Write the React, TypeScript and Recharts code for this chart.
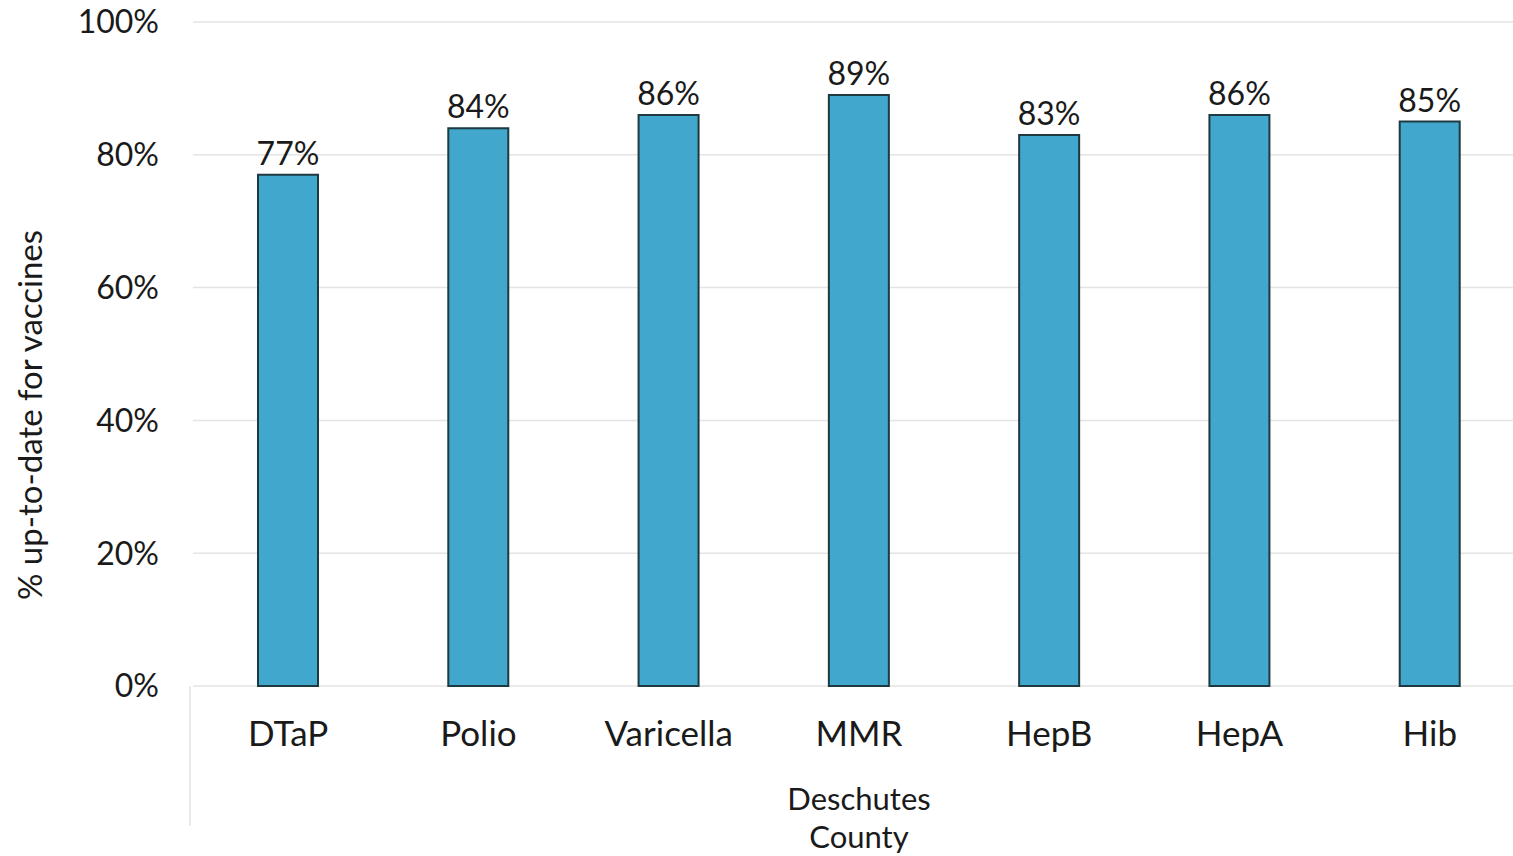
import React from 'react';
import { BarChart, Bar, XAxis, YAxis, CartesianGrid, LabelList } from 'recharts';

const vaccines = ['DTaP', 'Polio', 'Varicella', 'MMR', 'HepB', 'HepA', 'Hib'];
const upToDate = [77, 84, 86, 89, 83, 86, 85];
const yTicks = [0, 20, 40, 60, 80, 100];
const groupLabel = ['Deschutes', 'County'];

const data = vaccines.map((name, i) => ({ name, value: upToDate[i] }));

const FONT = 'Lato, "Open Sans", sans-serif';
const TEXT = '#1a1a1a';

const GroupLabel = (props: any) => {
    const { viewBox } = props;
    const cx = viewBox.x + viewBox.width / 2;
    return (
        <g>
            <line x1={viewBox.x - 3} x2={viewBox.x - 3} y1={viewBox.y} y2={viewBox.y + 140} stroke="#e2e2e2" strokeWidth={1.5} />
            <text x={cx} y={viewBox.y + 124} textAnchor="middle" fill={TEXT} fontSize={31} fontFamily={FONT}>
                {groupLabel[0]}
            </text>
            <text x={cx} y={viewBox.y + 162} textAnchor="middle" fill={TEXT} fontSize={31} fontFamily={FONT}>
                {groupLabel[1]}
            </text>
        </g>
    );
};

// rotated axis title, sitting a bit below the plot's middle as in the original
const YTitle = () => (
    <text
        x={42}
        y={415}
        transform="rotate(-90 42 415)"
        textAnchor="middle"
        fill={TEXT}
        fontSize={33}
        fontFamily={FONT}
    >
        % up-to-date for vaccines
    </text>
);

export default function App() {
    return (
        <div style={{ position: 'absolute', left: 0, top: 0, width: 1513, height: 856, overflow: 'hidden', background: '#fff' }}>
            <BarChart
                width={1532}
                height={856}
                data={data}
                margin={{ top: 22, right: 7, bottom: 0, left: 0 }}
                barSize={60}
            >
                <CartesianGrid vertical={false} stroke="#e4e4e4" strokeWidth={1.5} />
                <XAxis
                    dataKey="name"
                    axisLine={false}
                    tickLine={false}
                    height={170}
                    tickMargin={29}
                    tick={{ fill: TEXT, fontSize: 35, fontFamily: FONT }}
                    label={<GroupLabel />}
                />
                <YAxis
                    domain={[0, 100]}
                    ticks={yTicks}
                    width={193}
                    axisLine={false}
                    tickLine={false}
                    tickSize={0}
                    tickMargin={34}
                    tickFormatter={(v) => `${v}%`}
                    tick={{ fill: TEXT, fontSize: 32, fontFamily: FONT }}
                    label={<YTitle />}
                />
                <Bar dataKey="value" fill="#41A7CC" stroke="#1e3a40" strokeWidth={2} isAnimationActive={false}>
                    <LabelList
                        dataKey="value"
                        position="top"
                        offset={10}
                        formatter={(v: any) => `${v}%`}
                        style={{ fill: TEXT, fontSize: 32, fontFamily: FONT }}
                    />
                </Bar>
            </BarChart>
        </div>
    );
}
